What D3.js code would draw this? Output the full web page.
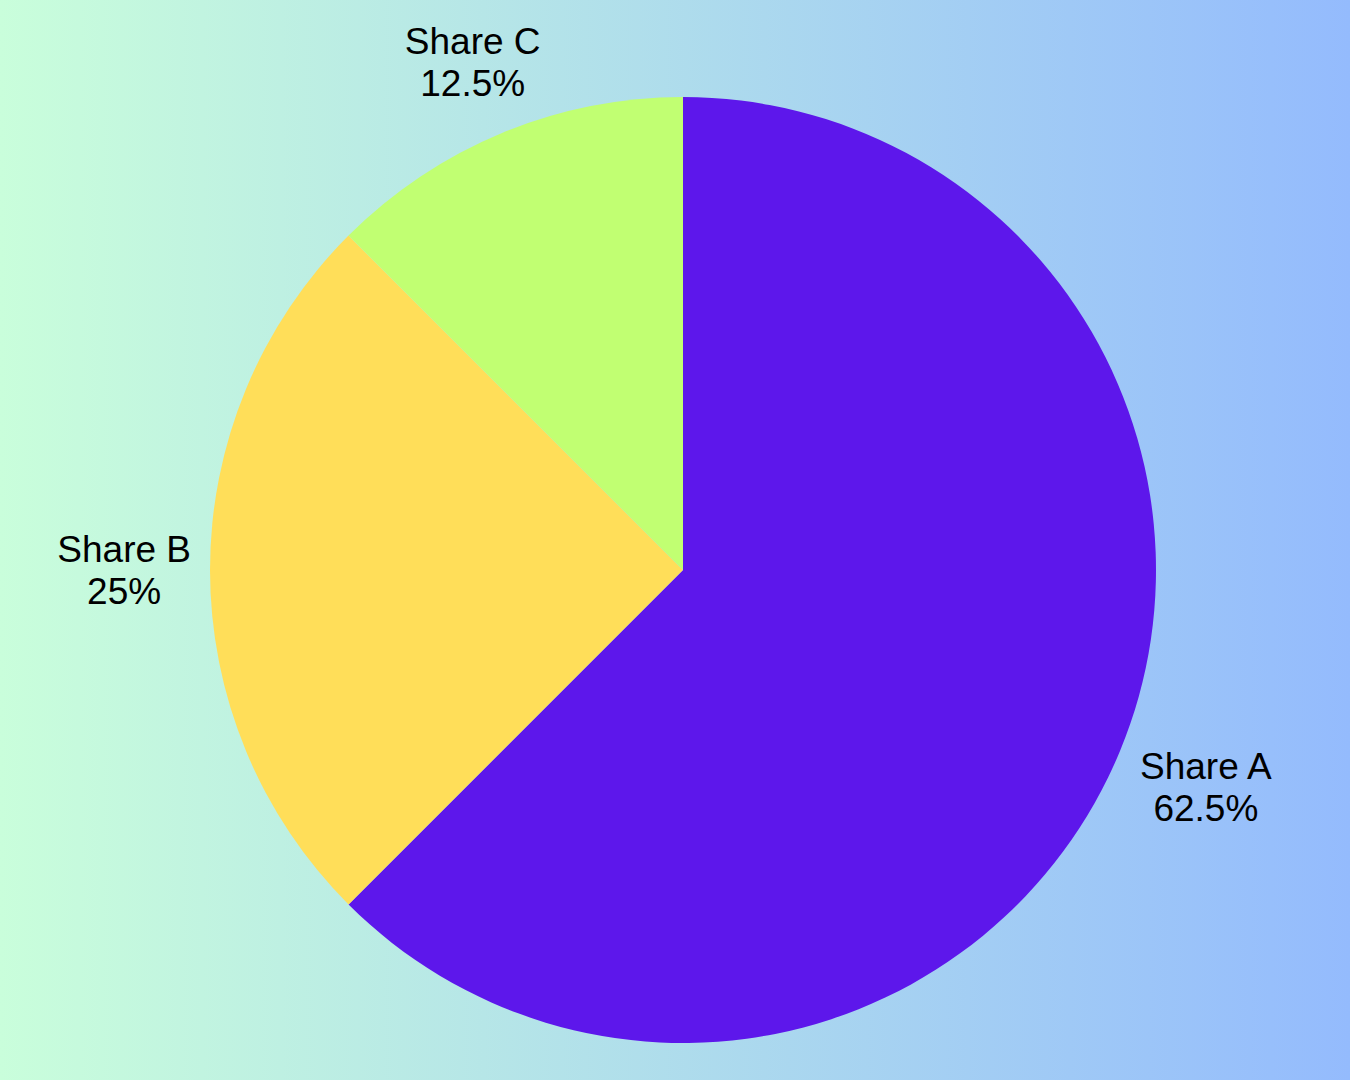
<!DOCTYPE html>
<html>
<head>
<meta charset="utf-8">
<script src="https://cdn.jsdelivr.net/npm/d3@7"></script>
<style>
  html, body { margin: 0; padding: 0; }
  body { width: 1350px; height: 1080px; overflow: hidden; }
</style>
</head>
<body>
<div id="chart"></div>
<script>
const categories = ["Share A", "Share B", "Share C"];
const values = [62.5, 25, 12.5];
const valueLabels = ["62.5%", "25%", "12.5%"];
const colors = ["#5d17eb", "#ffde59", "#c1ff72"];

const width = 1350, height = 1080;
const cx = 683, cy = 570, radius = 473;
const fontSize = 37;
const lineHeight = 42;
const capHeight = fontSize * 0.716;
const labelGap = 19; // space between pie edge and label block

const svg = d3.select("#chart")
  .append("svg")
  .attr("width", width)
  .attr("height", height);

// background gradient
const grad = svg.append("defs")
  .append("linearGradient")
  .attr("id", "bg")
  .attr("x1", "0%").attr("x2", "100%")
  .attr("y1", "0%").attr("y2", "0%");
grad.append("stop").attr("offset", "0%").attr("stop-color", "#c9fedb");
grad.append("stop").attr("offset", "100%").attr("stop-color", "#94bbfd");

svg.append("rect")
  .attr("width", width)
  .attr("height", height)
  .attr("fill", "url(#bg)");

const data = categories.map((c, i) => ({name: c, value: values[i], label: valueLabels[i], color: colors[i]}));

const pie = d3.pie()
  .sort(null)
  .value(d => d.value);

const arc = d3.arc()
  .innerRadius(0)
  .outerRadius(radius);

const g = svg.append("g")
  .attr("transform", "translate(" + cx + "," + cy + ")");

const arcs = pie(data);

g.selectAll("path")
  .data(arcs)
  .enter().append("path")
  .attr("d", arc)
  .attr("fill", d => d.data.color);

const labels = g.selectAll("text")
  .data(arcs)
  .enter().append("text")
  .attr("text-anchor", "middle")
  .attr("font-family", "'Liberation Sans', Arial, sans-serif")
  .attr("font-size", fontSize)
  .attr("fill", "#000");

labels.append("tspan")
  .attr("x", 0)
  .attr("y", 0)
  .text(d => d.data.name);

labels.append("tspan")
  .attr("x", 0)
  .attr("y", lineHeight)
  .text(d => d.data.label);

// push each label block out along its mid angle so it clears the pie
labels.each(function(d) {
  let w = 0;
  d3.select(this).selectAll("tspan").each(function() {
    w = Math.max(w, this.getComputedTextLength());
  });
  const hw = w / 2, hh = (capHeight + lineHeight) / 2;
  const mid = (d.startAngle + d.endAngle) / 2;
  const ux = Math.sin(mid), uy = -Math.cos(mid);
  const R = radius + labelGap + hw * Math.abs(ux) + hh * Math.abs(uy);
  const tx = R * ux, ty = R * uy - hh + capHeight;
  d3.select(this).attr("transform", "translate(" + tx + "," + ty + ")");
});
</script>
</body>
</html>
